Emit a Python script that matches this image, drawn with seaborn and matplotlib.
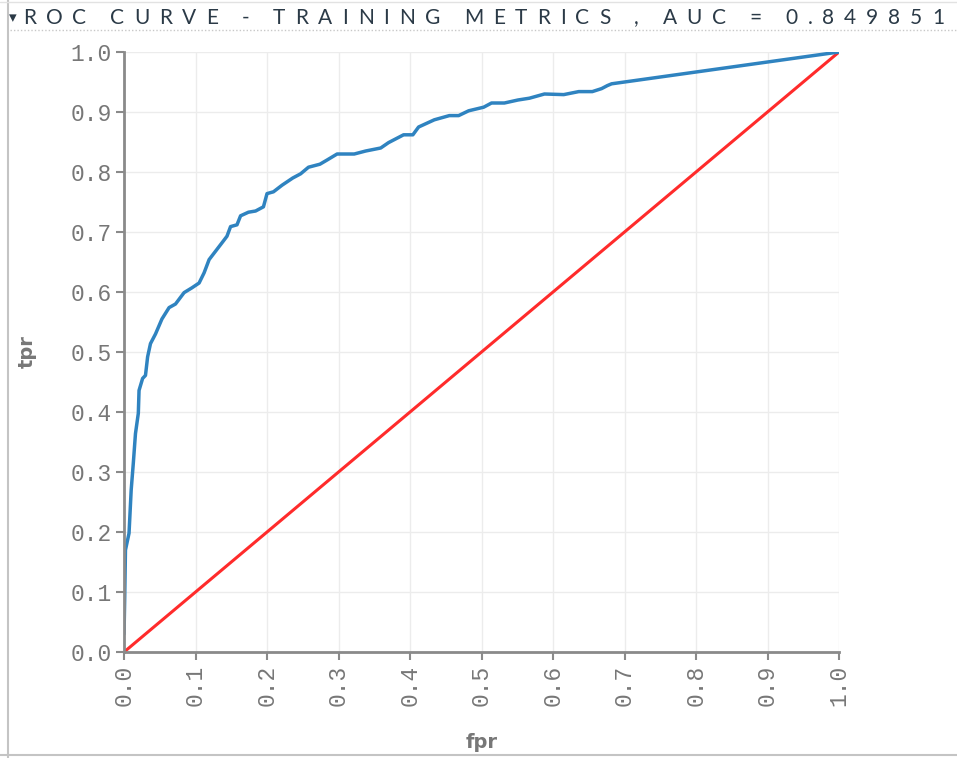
import matplotlib
matplotlib.use("Agg")
import matplotlib.pyplot as plt
import seaborn as sns
import pandas as pd
from matplotlib.lines import Line2D

# ── Data ──────────────────────────────────────────────────────────────────────
fpr = [0.000, 0.001, 0.002, 0.007, 0.010, 0.013, 0.016, 0.020, 0.021, 0.026,
       0.030, 0.033, 0.037, 0.044, 0.053, 0.063, 0.072, 0.084, 0.095, 0.105,
       0.112, 0.119, 0.128, 0.137, 0.144, 0.149, 0.158, 0.163, 0.174, 0.184,
       0.195, 0.200, 0.209, 0.221, 0.236, 0.247, 0.258, 0.274, 0.284, 0.298,
       0.322, 0.338, 0.359, 0.370, 0.391, 0.404, 0.412, 0.434, 0.455, 0.468,
       0.482, 0.503, 0.514, 0.532, 0.551, 0.567, 0.588, 0.615, 0.636, 0.655,
       0.668, 0.676, 0.682, 1.000]
tpr = [0.030, 0.093, 0.170, 0.198, 0.270, 0.315, 0.364, 0.398, 0.436, 0.456,
       0.461, 0.492, 0.514, 0.530, 0.555, 0.574, 0.580, 0.599, 0.607, 0.615,
       0.632, 0.654, 0.668, 0.682, 0.693, 0.709, 0.712, 0.727, 0.733, 0.735,
       0.742, 0.764, 0.767, 0.778, 0.790, 0.797, 0.808, 0.813, 0.820, 0.830,
       0.830, 0.835, 0.840, 0.849, 0.862, 0.862, 0.875, 0.887, 0.894, 0.894,
       0.902, 0.908, 0.915, 0.915, 0.920, 0.923, 0.930, 0.929, 0.934, 0.934,
       0.939, 0.944, 0.947, 1.000]
diag = [0.0, 1.0]
ticks = [0.0, 0.1, 0.2, 0.3, 0.4, 0.5, 0.6, 0.7, 0.8, 0.9, 1.0]
auc = "0.849851"
titulo = f"ROC CURVE - TRAINING METRICS , AUC = {auc}"

# ── Estilo ────────────────────────────────────────────────────────────────────
sns.set_theme(style="whitegrid")
plt.rcParams.update({
    "figure.facecolor": "white",
    "axes.facecolor": "white",
    "grid.color": "#ececec",
    "grid.linewidth": 1.0,
})
plt.rcParams["font.family"] = ["DejaVu Sans"]

COR_ROC = "#2f83c0"
COR_DIAG = "#ff2b2b"
COR_EIXO = "#8a8a8a"
COR_TEXTO = "#777777"
COR_TITULO = "#2b3a47"

df_roc = pd.DataFrame({"fpr": fpr, "tpr": tpr})
df_diag = pd.DataFrame({"fpr": diag, "tpr": diag})

W, H = 957, 758
fig = plt.figure(figsize=(W / 100, H / 100), dpi=100)
ax = fig.add_axes([0.1296, 0.1398, 0.7471, 0.7916])

sns.lineplot(data=df_roc, x="fpr", y="tpr", sort=False, color=COR_ROC,
             linewidth=2.5, ax=ax, zorder=3)
sns.lineplot(data=df_diag, x="fpr", y="tpr", sort=False, color=COR_DIAG,
             linewidth=2.2, ax=ax, zorder=2)

ax.set_xlim(0, 1)
ax.set_ylim(0, 1)
ax.set_xticks(ticks)
ax.set_yticks(ticks)
ax.set_xticklabels([f"{t:.1f}" for t in ticks], rotation=90,
                   family="Liberation Mono", fontsize=16.5, color=COR_TEXTO)
ax.set_yticklabels([f"{t:.1f}" for t in ticks],
                   family="Liberation Mono", fontsize=16.5, color=COR_TEXTO)
ax.tick_params(axis="both", which="major", length=6, width=1.5,
               color=COR_EIXO, direction="out", pad=3)
ax.tick_params(axis="x", bottom=True)
ax.tick_params(axis="y", left=True)

for lado in ["top", "right"]:
    ax.spines[lado].set_visible(False)
for lado in ["left", "bottom"]:
    ax.spines[lado].set_color(COR_EIXO)
    ax.spines[lado].set_linewidth(2)
    ax.spines[lado].set_zorder(4)

ax.set_xlabel("fpr", fontsize=14, fontweight="bold", color=COR_TEXTO)
ax.set_ylabel("tpr", fontsize=14, fontweight="bold", color=COR_TEXTO)
ax.xaxis.set_label_coords(0.5, -0.135)
ax.yaxis.set_label_coords(-0.122, 0.5)

# ── Cabeçalho (letras espaçadas) e moldura ────────────────────────────────────
fig.text(9 / W, 1 - 18 / H, "\u25be", fontsize=11, color=COR_TITULO,
         va="center", ha="left", family=["DejaVu Sans"])

renderer = fig.canvas.get_renderer()
letras = []
for c in titulo:
    t = fig.text(0, 1 - 18 / H, c if c != " " else "", fontsize=15,
                 color=COR_TITULO, va="center", ha="left",
                 family=["Lato", "DejaVu Sans"])
    larg = t.get_window_extent(renderer).width if c != " " else 4.0
    letras.append((t, larg))
x0, x1 = 23.0, 944.0
soma = sum(l for _, l in letras)
track = (x1 - x0 - soma) / (len(letras) - 1)
x = x0
for t, larg in letras:
    t.set_x(x / W)
    x += larg + track

fig.add_artist(Line2D([0.01, 1.0], [1 - 30 / H, 1 - 30 / H], transform=fig.transFigure,
                      color="#c8c8c8", linewidth=1.0, linestyle=(0, (1, 1.5))))
fig.add_artist(Line2D([0.0085, 0.0085], [0.0, 1.0], transform=fig.transFigure,
                      color="#c4c4c4", linewidth=1.5))
fig.add_artist(Line2D([0.0, 1.0], [0.004, 0.004], transform=fig.transFigure,
                      color="#c4c4c4", linewidth=1.5))
fig.add_artist(Line2D([0.0, 1.0], [0.998, 0.998], transform=fig.transFigure,
                      color="#e2e2e2", linewidth=1.0))

plt.savefig("out.png", dpi=100)
plt.close()
